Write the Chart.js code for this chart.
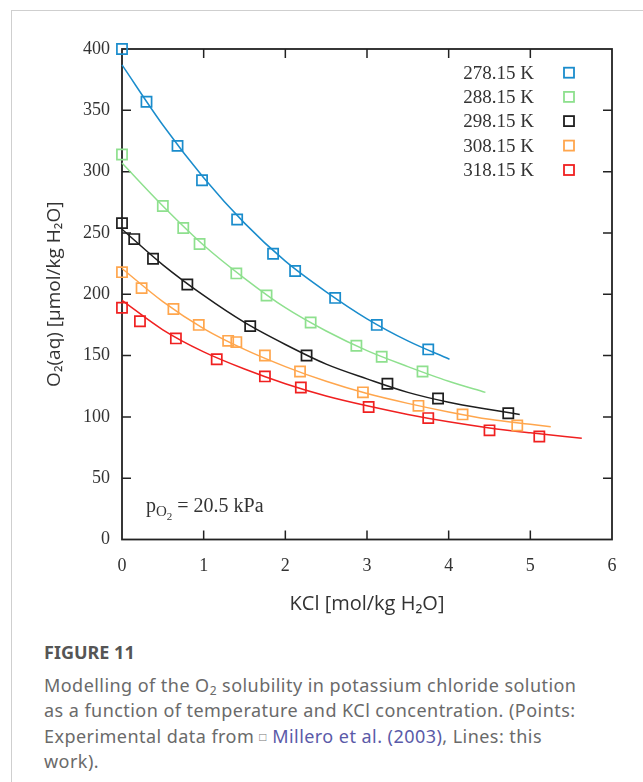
<!DOCTYPE html>
<html>
<head>
<meta charset="utf-8">
<script src="https://cdn.jsdelivr.net/npm/chart.js@4.4.1/dist/chart.umd.min.js"></script>
<style>
  html, body { margin: 0; padding: 0; background: #fff; width: 643px; height: 782px; overflow: hidden; }
  #card { position: absolute; left: 11px; top: 10px; width: 700px; height: 800px; border-left: 1px solid #cfcfcf; border-top: 1px solid #cfcfcf; }
  #chart { position: absolute; left: 0; top: 0; }
  #cap { position: absolute; left: 44px; top: 640px; width: 599px; font-family: "Noto Sans", "Open Sans", sans-serif; color: #6a6a6a; font-size: 18px; letter-spacing: 0.45px; line-height: 25.5px; white-space: nowrap; }
  #cap .fig { font-weight: 700; color: #555; font-size: 18px; letter-spacing: 0; margin-bottom: 7px; }
  #cap a { color: #5a5aa8; text-decoration: none; }
  #cap sub { font-size: 12px; line-height: 0; vertical-align: -3px; }
  #cap .box { font-size: 12px; color: #777; vertical-align: 2px; }
</style>
</head>
<body>
<div id="card"></div>
<canvas id="chart" width="643" height="630"></canvas>
<div id="cap">
  <div class="fig">FIGURE 11</div>
  <div>Modelling of the O<sub>2</sub> solubility in potassium chloride solution<br>as a function of temperature and KCl concentration. (Points:<br>Experimental data from <span class="box">□</span> <a>Millero et al. (2003)</a>, Lines: this<br>work).</div>
</div>
<script>
// ---- data ----
const seriesLabels = ['278.15 K', '288.15 K', '298.15 K', '308.15 K', '318.15 K'];

// experimental points
const expKcl278 = [0, 0.30, 0.68, 0.98, 1.41, 1.85, 2.12, 2.61, 3.12, 3.75];
const expO2_278 = [400, 357, 321, 293, 261, 233, 219, 197, 175, 155];
const expKcl288 = [0, 0.50, 0.75, 0.95, 1.40, 1.77, 2.31, 2.87, 3.18, 3.68];
const expO2_288 = [314, 272, 254, 241, 217, 199, 177, 158, 149, 137];
const expKcl298 = [0, 0.15, 0.38, 0.80, 1.57, 2.26, 3.25, 3.87, 4.73];
const expO2_298 = [258, 245, 229, 208, 174, 150, 127, 115, 103];
const expKcl308 = [0, 0.24, 0.63, 0.94, 1.30, 1.40, 1.75, 2.18, 2.95, 3.63, 4.17, 4.84];
const expO2_308 = [218, 205, 188, 175, 162, 161, 150, 137, 120, 109, 102, 93];
const expKcl318 = [0, 0.22, 0.66, 1.16, 1.75, 2.19, 3.02, 3.75, 4.50, 5.11];
const expO2_318 = [189, 178, 164, 147, 133, 124, 108, 99, 89, 84];

// model lines
const fitKcl278 = [0, 0.5, 1, 1.5, 2, 2.5, 3, 3.5, 4.01];
const fitO2_278 = [387, 338, 295, 258, 227, 202, 180, 162, 147];
const fitKcl288 = [0, 0.5, 1, 1.5, 2, 2.5, 3, 3.5, 4, 4.45];
const fitO2_288 = [307, 272, 240, 213, 189, 170, 154, 141, 129, 120];
const fitKcl298 = [0, 0.5, 1, 1.5, 2, 2.5, 3, 3.5, 4, 4.5, 4.87];
const fitO2_298 = [253, 224, 199, 177, 159, 143, 131, 120, 112, 106, 102];
const fitKcl308 = [0, 0.5, 1, 1.5, 2, 2.5, 3, 3.5, 4, 4.5, 5, 5.25];
const fitO2_308 = [221, 194, 172, 155, 141, 129, 119, 111, 104, 98, 94, 92];
const fitKcl318 = [0, 0.5, 1, 1.5, 2, 2.5, 3, 3.5, 4, 4.5, 5, 5.63];
const fitO2_318 = [195, 171, 153, 139, 127, 117, 109, 102, 96, 91, 87, 82.5];

const xTickValues = [0, 1, 2, 3, 4, 5, 6];
const yTickValues = [0, 50, 100, 150, 200, 250, 300, 350, 400];

// ---- styling ----
const seriesColors = ['#1a8ccc', '#8ee08e', '#1e1e1e', '#ffa64d', '#f02020'];
const expX = [expKcl278, expKcl288, expKcl298, expKcl308, expKcl318];
const expY = [expO2_278, expO2_288, expO2_298, expO2_308, expO2_318];
const fitX = [fitKcl278, fitKcl288, fitKcl298, fitKcl308, fitKcl318];
const fitY = [fitO2_278, fitO2_288, fitO2_298, fitO2_308, fitO2_318];
const pair = (xs, ys) => xs.map((x, i) => ({ x: x, y: ys[i] }));

const datasets = [];
seriesLabels.forEach((lab, i) => {
  datasets.push({
    type: 'line', label: lab + ' model', data: pair(fitX[i], fitY[i]),
    borderColor: seriesColors[i], borderWidth: 1.5, pointRadius: 0,
    cubicInterpolationMode: 'monotone', fill: false, clip: false, order: 2
  });
});
seriesLabels.forEach((lab, i) => {
  datasets.push({
    type: 'scatter', label: lab, data: pair(expX[i], expY[i]),
    borderColor: seriesColors[i], backgroundColor: 'rgba(0,0,0,0)',
    pointStyle: 'rect', pointRadius: 7.2, pointBorderWidth: 1.7, pointHoverRadius: 7.2,
    clip: false, order: 1
  });
});

const frameAndText = {
  id: 'frameAndText',
  beforeDatasetsDraw(chart) {
    const { ctx, chartArea: a, scales: { x, y } } = chart;
    ctx.save();
    ctx.strokeStyle = '#222';
    ctx.lineWidth = 1.8;
    ctx.strokeRect(a.left, a.top, a.right - a.left, a.bottom - a.top);
    ctx.lineWidth = 1.5;
    const L = 9;
    ctx.beginPath();
    xTickValues.slice(1, -1).forEach(v => {
      const px = x.getPixelForValue(v);
      ctx.moveTo(px, a.bottom); ctx.lineTo(px, a.bottom - L);
      ctx.moveTo(px, a.top); ctx.lineTo(px, a.top + L);
    });
    yTickValues.slice(1, -1).forEach(v => {
      const py = y.getPixelForValue(v);
      ctx.moveTo(a.left, py); ctx.lineTo(a.left + L, py);
      ctx.moveTo(a.right, py); ctx.lineTo(a.right - L, py);
    });
    ctx.stroke();
    ctx.restore();
  },
  afterDraw(chart) {
    const { ctx } = chart;
    ctx.save();
    // legend (inside, top-right)
    ctx.font = '19px "Liberation Serif", serif';
    ctx.textAlign = 'right';
    ctx.textBaseline = 'middle';
    const rowY = [72.7, 96.9, 121.1, 145.6, 170];
    seriesLabels.forEach((lab, i) => {
      const yy = rowY[i];
      ctx.fillStyle = '#333';
      ctx.fillText(lab, 534, yy + 1);
      ctx.strokeStyle = seriesColors[i];
      ctx.lineWidth = 1.8;
      ctx.strokeRect(564, yy - 5, 10, 10);
    });
    // annotation p_O2 = 20.5 kPa
    ctx.textAlign = 'left';
    ctx.textBaseline = 'alphabetic';
    ctx.fillStyle = '#333';
    let xx = 146, base = 512;
    ctx.font = '20px "Liberation Serif", serif';
    ctx.fillText('p', xx, base);
    xx += ctx.measureText('p').width;
    ctx.font = '15px "Liberation Serif", serif';
    ctx.fillText('O', xx, base + 4);
    xx += ctx.measureText('O').width;
    ctx.font = '11px "Liberation Serif", serif';
    ctx.fillText('2', xx, base + 8);
    xx += ctx.measureText('2').width;
    ctx.font = '20px "Liberation Serif", serif';
    ctx.fillText(' = 20.5 kPa', xx, base);
    ctx.restore();
  }
};

new Chart(document.getElementById('chart'), {
  data: { datasets: datasets },
  options: {
    responsive: false,
    animation: false,
    devicePixelRatio: 1,
    layout: { padding: { left: 0, top: 49, right: 31, bottom: 0 } },
    plugins: { legend: { display: false }, tooltip: { enabled: false } },
    scales: {
      x: {
        type: 'linear', min: 0, max: 6,
        afterBuildTicks: s => { s.ticks = xTickValues.map(v => ({ value: v })); },
        afterFit: s => { s.height = 90.5; },
        grid: { display: false, drawTicks: false },
        border: { display: false },
        ticks: { padding: 16, color: '#333', font: { family: '"Liberation Serif", serif', size: 18 } },
        title: { display: true, text: 'KCl [mol/kg H₂O]', color: '#333',
                 font: { family: '"Open Sans", sans-serif', size: 20 }, padding: { top: 0, bottom: 14 } }
      },
      y: {
        type: 'linear', min: 0, max: 400,
        afterBuildTicks: s => { s.ticks = yTickValues.map(v => ({ value: v })); },
        afterFit: s => { s.width = 122; },
        grid: { display: false, drawTicks: false },
        border: { display: false },
        ticks: { padding: 12, color: '#333', font: { family: '"Liberation Serif", serif', size: 18 } },
        title: { display: true, text: 'O₂(aq) [μmol/kg H₂O]', color: '#333',
                 font: { family: '"Open Sans", sans-serif', size: 19 }, padding: { top: 43, bottom: 0 } }
      }
    }
  },
  plugins: [frameAndText]
});
</script>
</body>
</html>
